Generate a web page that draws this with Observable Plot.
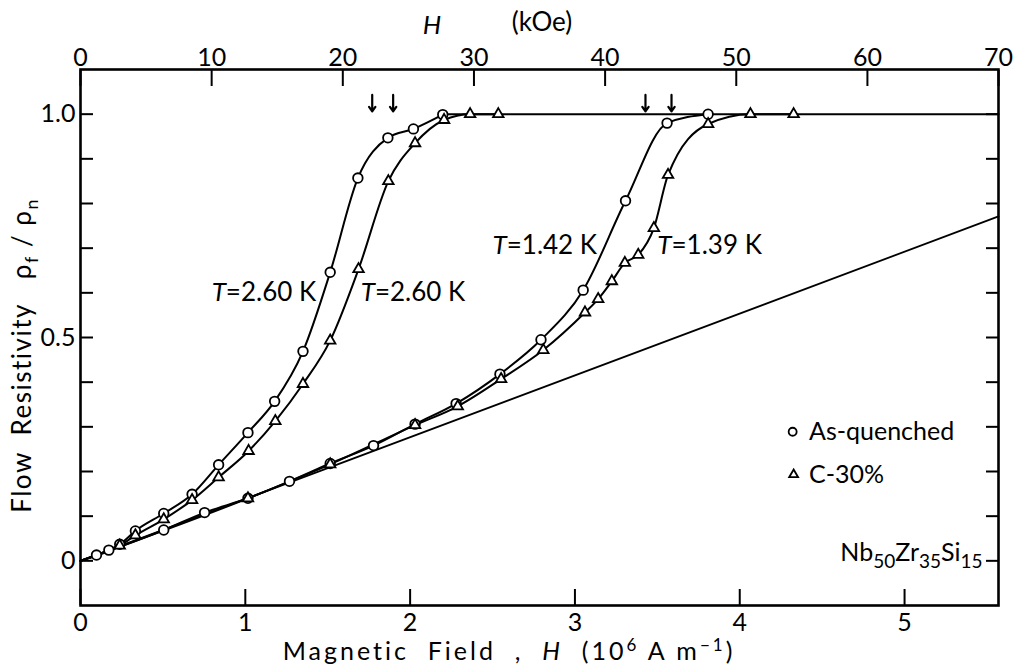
<!DOCTYPE html>
<html><head><meta charset="utf-8">
<script src="https://cdn.jsdelivr.net/npm/d3@7"></script>
<script src="https://cdn.jsdelivr.net/npm/@observablehq/plot@0.6"></script>
<style>
html,body{margin:0;padding:0;background:#fff;}
#chart svg{display:block}
</style>
</head><body><div id="chart"></div>
<script>
// ---------- data (H in 10^6 A/m, rho = rho_f / rho_n) ----------
// T = 2.60 K, as-quenched (circles)
const aq260H   = [0.097,0.172,0.238,0.333,0.505,0.677,0.838,1.016,1.178,1.350,1.515,1.683,1.865,2.020,2.198];
const aq260Rho = [0.013,0.024,0.037,0.067,0.106,0.149,0.215,0.287,0.357,0.469,0.646,0.857,0.947,0.967,0.999];
// T = 2.60 K, C-30% (triangles)
const c260H   = [0.238,0.333,0.505,0.677,0.838,1.020,1.182,1.350,1.515,1.687,1.868,2.030,2.206,2.364,2.535];
const c260Rho = [0.034,0.057,0.093,0.136,0.187,0.246,0.313,0.396,0.493,0.653,0.850,0.935,0.987,1.000,1.000];
// T = 1.42 K, as-quenched (circles)
const aq142H   = [0.505,0.753,1.016,1.268,1.515,1.778,2.030,2.279,2.545,2.794,3.050,3.307,3.559,3.808];
const aq142Rho = [0.069,0.108,0.140,0.178,0.218,0.258,0.306,0.352,0.418,0.495,0.606,0.806,0.980,1.000];
// T = 1.39 K, C-30% (triangles)
const c139H   = [1.016,1.515,2.030,2.289,2.552,2.808,3.061,3.141,3.224,3.303,3.384,3.479,3.565,3.808,4.065,4.327];
const c139Rho = [0.140,0.216,0.304,0.346,0.407,0.472,0.556,0.586,0.626,0.667,0.685,0.745,0.864,0.978,1.000,1.000];
// curves start at the origin
const originH = 0, originRho = 0;
// normal-state straight line
const normalH   = [0, 5.57];
const normalRho = [0, 0.771];
// rho_f/rho_n = 1 plateau
const flatH   = [2.198, 5.57];
const flatRho = [1, 1];
// Hc2 arrows
const arrowH = [1.770, 1.897, 3.428, 3.586];

// ticks
const bottomTicks = [0, 1, 2, 3, 4, 5];
const topTicksKOe = [0, 10, 20, 30, 40, 50, 60, 70];
const yMinorTicks = [0, 0.1, 0.2, 0.3, 0.4, 0.5, 0.6, 0.7, 0.8, 0.9, 1.0];
const yLabelTicks = [0, 0.5, 1.0];
const yLabelText  = ["0", "0.5", "1.0"];

// texts
const curveLabels = ["T=2.60 K", "T=2.60 K", "T=1.42 K", "T=1.39 K"];
const legendLabels = ["As-quenched", "C-30%"];
const alloyLabel = "Nb50Zr35Si15";
const xLabel = "Magnetic Field , H (106 A m-1)";
const yLabel = "Flow Resistivity ρf/ρn";

const MA_PER_KOE = 0.0795775; // 1 kOe = 0.0795775 x 10^6 A/m

// ---------- build tables ----------
function rows(H, R, series) { return H.map((h, i) => ({H: h, rho: R[i], series})); }
const circlePts = [...rows(aq260H, aq260Rho, "aq260"), ...rows(aq142H, aq142Rho, "aq142")];
const trianglePts = [...rows(c260H, c260Rho, "c260"), ...rows(c139H, c139Rho, "c139")];
const curveRows = [
  {H: originH, rho: originRho, series: "aq260"}, ...rows(aq260H, aq260Rho, "aq260"),
  {H: originH, rho: originRho, series: "c260"}, ...rows(c260H, c260Rho, "c260"),
  {H: originH, rho: originRho, series: "aq142"}, ...rows(aq142H, aq142Rho, "aq142"),
  {H: originH, rho: originRho, series: "c139"}, ...rows(c139H, c139Rho, "c139")
];
const normalRows = rows(normalH, normalRho, "normal");
const flatRows = rows(flatH, flatRho, "flat");

const FS = 25;
const chart = Plot.plot({
  width: 1016, height: 670,
  marginLeft: 80, marginRight: 18, marginTop: 69, marginBottom: 65,
  x: {domain: [0, 5.57], label: null},
  y: {domain: [-0.1, 1.1], label: null},
  style: {fontFamily: "Lato, 'DejaVu Sans', sans-serif", fontSize: FS + "px", color: "black", background: "white"},
  marks: [
    // axes: ticks inward
    Plot.axisX({anchor: "bottom", ticks: bottomTicks, tickSize: -16, tickFormat: () => "", strokeWidth: 2, label: null}),
    Plot.axisX({anchor: "bottom", ticks: bottomTicks, tickSize: 0, tickPadding: 8, tickFormat: d => String(d), label: null}),
    Plot.axisX({anchor: "top", ticks: topTicksKOe.map(k => k * MA_PER_KOE), tickSize: -16, tickFormat: () => "", strokeWidth: 2, label: null}),
    Plot.axisX({anchor: "top", ticks: topTicksKOe.map(k => k * MA_PER_KOE), tickSize: 0, tickPadding: 4,
      tickFormat: d => String(Math.round(d / MA_PER_KOE)), label: null}),
    Plot.axisY({anchor: "left", ticks: yMinorTicks, tickSize: -13, tickFormat: () => "", strokeWidth: 2, label: null}),
    Plot.axisY({anchor: "left", ticks: yLabelTicks, tickSize: 0, tickPadding: 5,
      tickFormat: d => yLabelText[yLabelTicks.indexOf(d)], label: null}),
    Plot.axisY({anchor: "right", ticks: yMinorTicks, tickSize: -13, tickFormat: () => "", strokeWidth: 2, label: null}),
    Plot.frame({strokeWidth: 2.6}),
    // lines
    Plot.line(normalRows, {x: "H", y: "rho", strokeWidth: 1.8}),
    Plot.line(flatRows, {x: "H", y: "rho", strokeWidth: 2}),
    Plot.line(curveRows, {x: "H", y: "rho", z: "series", curve: "monotone-x", strokeWidth: 2}),
    // symbols
    Plot.dot(circlePts, {x: "H", y: "rho", symbol: "circle", r: 4.8, fill: "white", stroke: "black", strokeWidth: 1.8}),
    Plot.dot(trianglePts, {x: "H", y: "rho", symbol: "triangle", r: 3.9, fill: "white", stroke: "black", strokeWidth: 1.8}),
    // arrows
    Plot.arrow(arrowH, {x1: d => d, x2: d => d, y1: 1.043, y2: 1.006, headLength: 11, headAngle: 70, strokeWidth: 2.2}),
    // curve labels
    Plot.text([curveLabels[0]], {x: 1.43, y: 0.60, textAnchor: "end", fontSize: 26}),
    Plot.text([curveLabels[1]], {x: 1.70, y: 0.60, textAnchor: "start", fontSize: 26}),
    Plot.text([curveLabels[2]], {x: 2.50, y: 0.705, textAnchor: "start", fontSize: 26}),
    Plot.text([curveLabels[3]], {x: 3.50, y: 0.705, textAnchor: "start", fontSize: 26}),
    // legend
    Plot.dot([legendLabels[0]], {x: 4.321, y: 0.289, symbol: "circle", r: 4, fill: "white", stroke: "black", strokeWidth: 1.8}),
    Plot.dot([legendLabels[1]], {x: 4.327, y: 0.193, symbol: "triangle", r: 3.3, fill: "white", stroke: "black", strokeWidth: 1.8}),
    Plot.text([legendLabels[0]], {x: 4.42, y: 0.289, textAnchor: "start", fontSize: FS}),
    Plot.text([legendLabels[1]], {x: 4.42, y: 0.193, textAnchor: "start", fontSize: FS}),
    Plot.text([alloyLabel], {x: 4.61, y: 0.018, textAnchor: "start", fontSize: FS}),
    // axis titles
    Plot.text([xLabel], {x: 2.6, y: -0.205, fontSize: 25}),
    Plot.text([yLabel], {x: -0.352, y: 0.46, rotate: -90, fontSize: 26}),
    Plot.text(["H"], {x: 2.133, y: 1.198, fontSize: 26}),
    Plot.text(["(kOe)"], {x: 2.80, y: 1.205, fontSize: 26})
  ]
});
document.getElementById("chart").appendChild(chart);

// ---------- rich text (italics, sub/superscripts) ----------
function rich(plain, html, extra = "") {
  chart.querySelectorAll("text").forEach(t => {
    if (t.textContent === plain) { t.innerHTML = html; t.setAttribute("style", "white-space:pre;" + extra); }
  });
}
curveLabels.forEach(s => rich(s, `<tspan font-style="italic">T</tspan>${s.slice(1)}`));
rich(alloyLabel, `Nb<tspan dy="7" font-size="19">50</tspan><tspan dy="-7">Zr</tspan><tspan dy="7" font-size="19">35</tspan><tspan dy="-7">Si</tspan><tspan dy="7" font-size="19">15</tspan>`);
rich(xLabel, `Magnetic  Field  ,  <tspan font-style="italic">H</tspan>  (10<tspan dy="-9" font-size="17">6</tspan><tspan dy="9"> A m</tspan><tspan dy="-9" font-size="17">−1</tspan><tspan dy="9">)</tspan>`, "letter-spacing:3px");
rich(yLabel, `Flow  Resistivity   ρ<tspan dy="7" font-size="18">f</tspan><tspan dy="-7"> / ρ</tspan><tspan dy="7" font-size="18">n</tspan>`, "letter-spacing:1.5px");
rich("H", `<tspan font-style="italic">H</tspan>`);
</script></body></html>
